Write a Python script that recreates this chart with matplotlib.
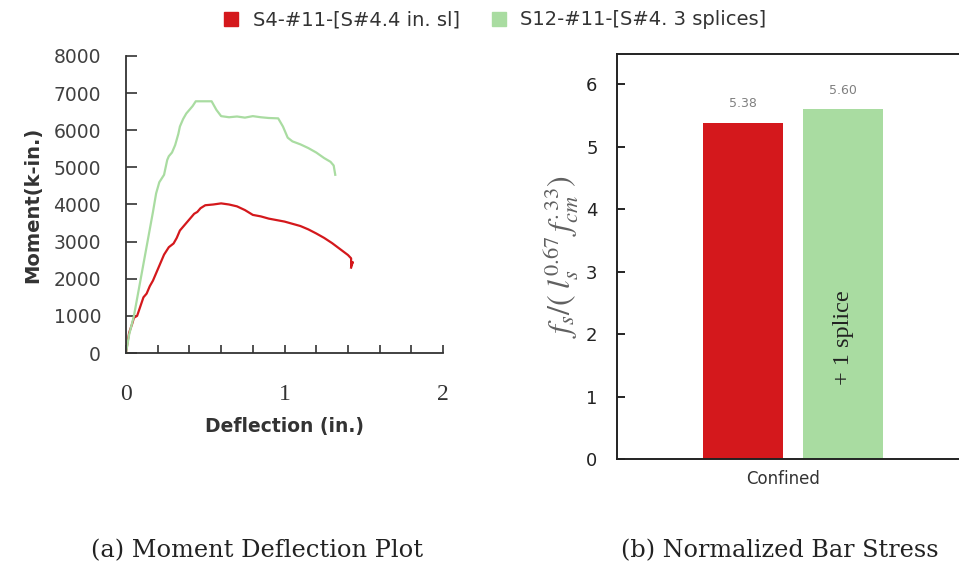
import numpy as np
import matplotlib
matplotlib.use('Agg')
import matplotlib.pyplot as plt
from matplotlib.ticker import MultipleLocator, FuncFormatter
from matplotlib.lines import Line2D

plt.rcParams['mathtext.fontset'] = 'stix'

# moment-deflection curves
red_x = [0, 0.01, 0.02, 0.04, 0.05, 0.07, 0.09, 0.11, 0.13, 0.15, 0.17, 0.19,
         0.21, 0.22, 0.24, 0.27, 0.30, 0.32, 0.34, 0.37, 0.40, 0.43, 0.45, 0.47,
         0.50, 0.55, 0.60, 0.65, 0.70, 0.75, 0.80, 0.85, 0.90, 0.95, 1.00, 1.05,
         1.10, 1.15, 1.20, 1.25, 1.30, 1.35, 1.40, 1.42, 1.42, 1.43, 1.42]
red_y = [0, 300, 550, 800, 950, 1000, 1250, 1500, 1600, 1800, 1950, 2150,
         2350, 2450, 2650, 2850, 2950, 3100, 3300, 3450, 3600, 3750, 3800, 3900,
         3980, 4000, 4030, 4000, 3950, 3850, 3720, 3680, 3620, 3580, 3540, 3480,
         3420, 3330, 3220, 3100, 2960, 2800, 2640, 2550, 2350, 2450, 2300]

green_x = [0, 0.02, 0.05, 0.08, 0.11, 0.14, 0.17, 0.19, 0.21, 0.24, 0.26, 0.27,
           0.29, 0.31, 0.33, 0.34, 0.36, 0.38, 0.40, 0.42, 0.44, 0.46, 0.50, 0.54,
           0.57, 0.60, 0.65, 0.70, 0.75, 0.80, 0.85, 0.90, 0.96, 0.99, 1.02, 1.05,
           1.10, 1.15, 1.20, 1.25, 1.29, 1.31, 1.32]
green_y = [0, 500, 1000, 1700, 2400, 3100, 3800, 4300, 4600, 4800, 5200, 5300,
           5400, 5600, 5900, 6100, 6300, 6450, 6550, 6650, 6780, 6780, 6780, 6780,
           6550, 6380, 6350, 6370, 6340, 6380, 6350, 6330, 6320, 6100, 5800, 5700,
           5620, 5520, 5400, 5250, 5150, 5050, 4800]

series = ['S4-#11-[S#4.4 in. sl]', 'S12-#11-[S#4. 3 splices]']
categories = ['Confined']
bar_vals = [5.38, 5.60]
bar_text = ['', '+ 1 splice']

red = '#d4181c'
green = '#a9dca1'
grey = '#404040'

fig = plt.figure(figsize=(9.59, 5.69), dpi=100)

# (a) moment deflection
ax1 = fig.add_axes([0.1314, 0.3796, 0.3306, 0.522])
ax1.plot(red_x, red_y, color=red, lw=1.6)
ax1.plot(green_x, green_y, color=green, lw=1.6)
ax1.set_xlim(0, 2)
ax1.set_ylim(0, 8000)
ax1.spines['top'].set_visible(False)
ax1.spines['right'].set_visible(False)
for s in ['left', 'bottom']:
    ax1.spines[s].set_color('#333333')
    ax1.spines[s].set_linewidth(1.3)
ax1.xaxis.set_major_locator(MultipleLocator(0.2))
ax1.xaxis.set_major_formatter(FuncFormatter(
    lambda v, p: '%d' % round(v) if abs(v - round(v)) < 1e-6 else ''))
ax1.yaxis.set_major_locator(MultipleLocator(1000))
ax1.tick_params(axis='x', direction='in', length=6, width=1.2, pad=22,
                labelsize=17, color='#333333')
ax1.tick_params(axis='y', direction='in', length=8, width=1.2, pad=18,
                labelsize=13.5, labelcolor=grey, color='#333333')
for t in ax1.get_xticklabels():
    t.set_fontfamily('Liberation Serif')
    t.set_color('#333333')
ax1.set_xlabel('Deflection (in.)', fontsize=13.5, fontweight='bold',
               color='#333333', labelpad=9)
ax1.set_ylabel('Moment(k-in.)', fontsize=14, fontweight='bold',
               color='#333333', labelpad=8)

# (b) normalized bar stress
ax2 = fig.add_axes([0.6434, 0.1933, 0.3566, 0.7117])
w = 1.0
offs = [-0.625, 0.625]
cols = [red, green]
for i in range(2):
    ax2.bar(offs[i], bar_vals[i], width=w, color=cols[i])
    ax2.text(offs[i], bar_vals[i] + 0.2, '%.2f' % bar_vals[i], ha='center',
             va='bottom', fontsize=9, color='#808080')
    if bar_text[i]:
        ax2.text(offs[i], 1.95, bar_text[i], rotation=90, ha='center',
                 va='center', fontsize=17.5, family='Liberation Serif',
                 color='#222222')
ax2.set_xlim(-2.2, 2.075)
ax2.set_ylim(0, 6.48)
ax2.set_xticks([-0.125])
ax2.set_xticklabels(categories, fontsize=12, color='#333333')
ax2.tick_params(axis='x', length=0, pad=8)
ax2.yaxis.set_major_locator(MultipleLocator(1))
ax2.tick_params(axis='y', direction='in', length=6, width=1.2, labelsize=13,
                labelcolor='#222222', pad=14)
ax2.spines['right'].set_visible(False)
for s in ['left', 'bottom', 'top']:
    ax2.spines[s].set_linewidth(1.4)
    ax2.spines[s].set_color('#222222')
ax2.set_ylabel(r'$f_s/(\;l_s^{0.67}\,f_{cm}^{.33})$', fontsize=23,
               color='#606060', labelpad=4)

# legend
handles = [Line2D([], [], marker='s', ls='', color=c, markersize=10) for c in cols]
fig.legend(handles, series, loc='center', bbox_to_anchor=(0.51, 0.965), ncol=2,
           frameon=False, fontsize=14, handletextpad=0.1, columnspacing=1.0,
           labelcolor='#333333')

# captions
fig.text(0.268, 0.033, '(a) Moment Deflection Plot', ha='center', va='center',
         fontsize=17.4, family='DejaVu Serif', color='#222222')
fig.text(0.813, 0.033, '(b) Normalized Bar Stress', ha='center', va='center',
         fontsize=17.2, family='DejaVu Serif', color='#222222')

fig.savefig('out.png', dpi=100)
